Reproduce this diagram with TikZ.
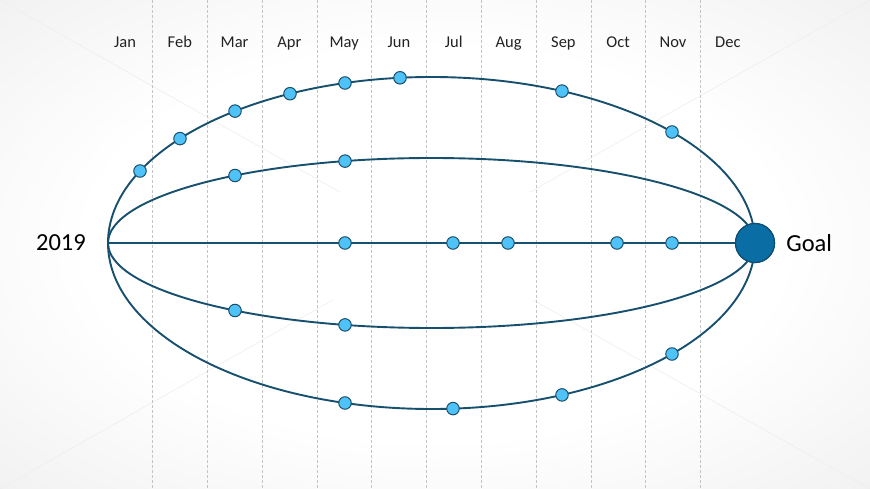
\documentclass[tikz,border=0pt]{standalone}
\usepackage{fontspec}
\setmainfont{Carlito}
\usepackage{tikz}
\usetikzlibrary{positioning}

\definecolor{trackcol}{HTML}{17506E}
\definecolor{dotfill}{HTML}{4FC3F7}
\definecolor{dotline}{HTML}{1B4F6B}
\definecolor{goalfill}{HTML}{0A6DA3}
\definecolor{goalline}{HTML}{0D4E74}
\definecolor{gridcol}{HTML}{C4C4C4}
\definecolor{labelcol}{HTML}{222222}

\pgfdeclareradialshading{slidebg}{\pgfpoint{0bp}{0bp}}{color(0bp)=(white); color(20bp)=(white); color(48bp)=(gray!19); color(75bp)=(gray!14)}

\tikzset{
  month/.style={text=labelcol, font=\fontsize{16.5}{19}\selectfont, inner sep=0pt, anchor=base},
  biglabel/.style={text=black, font=\fontsize{24.5}{29}\selectfont, inner sep=0pt},
  grid/.style={gridcol, line width=0.6pt, dash pattern=on 3pt off 2pt},
  track/.style={trackcol, line width=1.9pt},
  dot/.style={circle, fill=dotfill, draw=dotline, line width=1pt, minimum size=12.5pt, inner sep=0pt},
  goaldot/.style={circle, fill=goalfill, draw=goalline, line width=1.2pt, minimum size=39pt, inner sep=0pt}
}

\begin{document}
\begin{tikzpicture}[x=1pt,y=-1pt]
		\useasboundingbox (0,0) rectangle (870,489);
		\shade[shading=slidebg] (0,0) rectangle (870,489);
		% faint slide diagonals
		\draw [gray!13, line width=0.6pt] (0,0) -- (340,192);
		\draw [gray!13, line width=0.6pt] (0,489) -- (333,300);
		\draw [gray!13, line width=0.6pt] (870,0) -- (530,192);
		\draw [gray!13, line width=0.6pt] (870,489) -- (533,300);
		% month columns
		\draw [grid] (152.4,0) -- (152.4,489);
		\draw [grid] (207.2,0) -- (207.2,489);
		\draw [grid] (262.0,0) -- (262.0,489);
		\draw [grid] (316.8,0) -- (316.8,489);
		\draw [grid] (371.6,0) -- (371.6,489);
		\draw [grid] (426.4,0) -- (426.4,489);
		\draw [grid] (481.2,0) -- (481.2,489);
		\draw [grid] (536.0,0) -- (536.0,489);
		\draw [grid] (590.8,0) -- (590.8,489);
		\draw [grid] (645.6,0) -- (645.6,489);
		\draw [grid] (700.4,0) -- (700.4,489);
		\node [month] (jan) at (125.0,47.5) {Jan};
		\node [month] (feb) at (179.8,47.5) {Feb};
		\node [month] (mar) at (234.6,47.5) {Mar};
		\node [month] (apr) at (289.4,47.5) {Apr};
		\node [month] (may) at (344.2,47.5) {May};
		\node [month] (jun) at (399.0,47.5) {Jun};
		\node [month] (jul) at (453.8,47.5) {Jul};
		\node [month] (aug) at (508.6,47.5) {Aug};
		\node [month] (sep) at (563.4,47.5) {Sep};
		\node [month] (oct) at (618.2,47.5) {Oct};
		\node [month] (nov) at (673.0,47.5) {Nov};
		\node [month] (dec) at (727.8,47.5) {Dec};
		% paths
		\coordinate (start) at (108,243);
		\coordinate (centre) at (431.5,243);
		\node [goaldot] (goal) at (755,243) {};
		\draw [track] (centre) ellipse [x radius=323.5, y radius=166];
		\draw [track] (centre) ellipse [x radius=323.5, y radius=85];
		\draw [track] (start) -- (goal);
		\node [goaldot] at (goal) {};
		% outer path, top
		\node [dot] (ot1) at (140,171.0) {};
		\node [dot] (ot2) at (180,138.6) {};
		\node [dot] (ot3) at (235,111.1) {};
		\node [dot] (ot4) at (290,93.7) {};
		\node [dot] (ot5) at (345,83.0) {};
		\node [dot] (ot6) at (400,77.8) {};
		\node [dot] (ot7) at (562,91.1) {};
		\node [dot] (ot8) at (672,132.0) {};
		% inner path, top
		\node [dot] (it1) at (235,175.5) {};
		\node [dot] (it2) at (345,161.1) {};
		% straight path
		\node [dot] (m1) at (345,243) {};
		\node [dot] (m2) at (453,243) {};
		\node [dot] (m3) at (508,243) {};
		\node [dot] (m4) at (617,243) {};
		\node [dot] (m5) at (672,243) {};
		% inner path, bottom
		\node [dot] (ib1) at (235,310.5) {};
		\node [dot] (ib2) at (345,324.9) {};
		% outer path, bottom
		\node [dot] (ob1) at (345,403.0) {};
		\node [dot] (ob2) at (453,408.6) {};
		\node [dot] (ob3) at (562,394.9) {};
		\node [dot] (ob4) at (672,354.0) {};
		% labels
		\node [biglabel, left=22pt of start] (year) {2019};
		\node [biglabel, right=11pt of goal] (goaltext) {Goal};
		\end{tikzpicture}
\end{document}
